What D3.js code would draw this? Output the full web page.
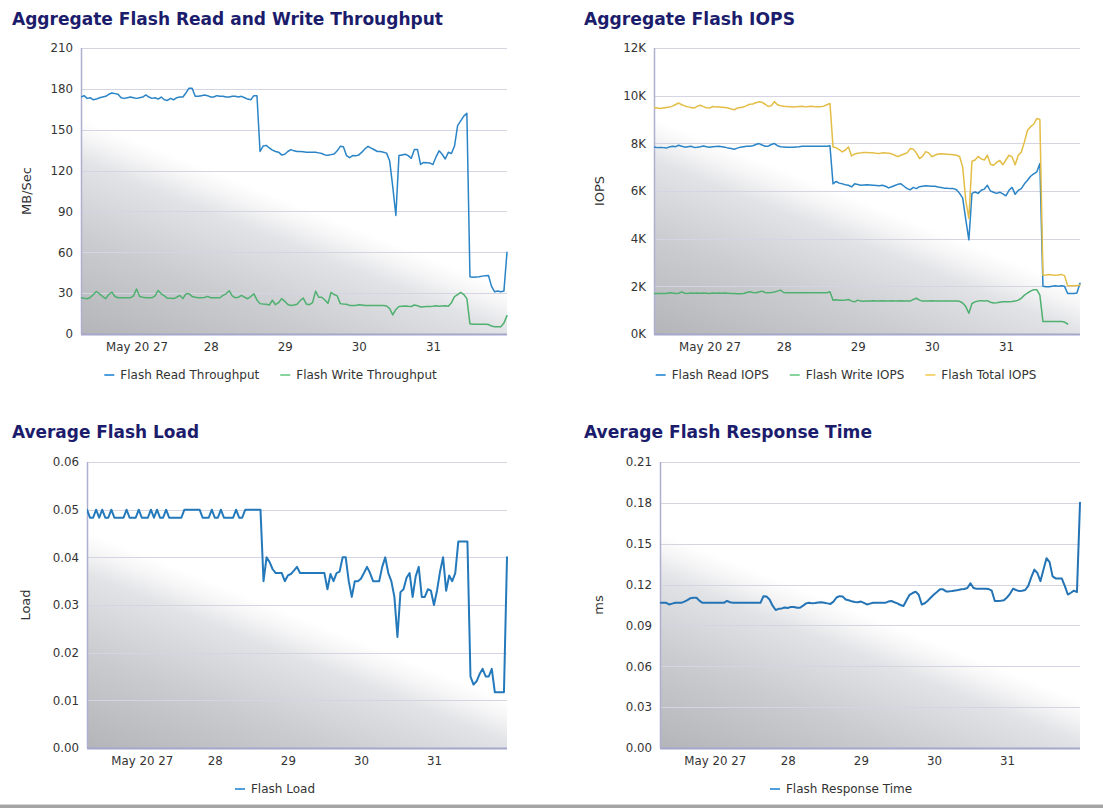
<!DOCTYPE html>
<html><head><meta charset="utf-8">
<script src="https://cdn.jsdelivr.net/npm/d3@7"></script>
<style>
html,body{margin:0;padding:0;background:#fff;}
svg{display:block;font-family:"DejaVu Sans",Verdana,sans-serif;}
</style></head><body>
<svg id="c" width="1103" height="808"></svg>
<script>
// ---------- time axis ----------
const startTime = new Date(Date.UTC(2020, 4, 26, 6));
const endTime = new Date(Date.UTC(2020, 5, 1, 0));
const times = d3.utcHour.range(startTime, d3.utcHour.offset(endTime, 1)); // hourly samples
const dayTicks = [27, 28, 29, 30, 31].map(d => new Date(Date.UTC(2020, 4, d)));
const dayTickLabels = ["May 20 27", "28", "29", "30", "31"];

// ---------- tick labels ----------
const throughputTicks = [0, 30, 60, 90, 120, 150, 180, 210];
const throughputTickLabels = ["0", "30", "60", "90", "120", "150", "180", "210"];
const iopsTicks = [0, 2, 4, 6, 8, 10, 12];
const iopsTickLabels = ["0K", "2K", "4K", "6K", "8K", "10K", "12K"];
const loadTicks = [0, 0.01, 0.02, 0.03, 0.04, 0.05, 0.06];
const loadTickLabels = ["0.00", "0.01", "0.02", "0.03", "0.04", "0.05", "0.06"];
const respTicks = [0, 0.03, 0.06, 0.09, 0.12, 0.15, 0.18, 0.21];
const respTickLabels = ["0.00", "0.03", "0.06", "0.09", "0.12", "0.15", "0.18", "0.21"];

// ---------- series (hourly, MB/Sec) ----------
const flashReadThroughput = [174,175,173,173.5,172,172.5,173.5,174,174.5,176,177,176.5,176,173.5,173,173.5,174,173.5,173,173.5,174,175.5,174,173,173.5,172.5,174,172,171.5,173,172,173.5,174,174,177,180.5,180.5,174.5,174.5,175,175.5,175,174,174,175,174.5,174.5,174,174,174.5,174.5,174,174.5,173.5,172.5,172,175,175,
134,138,138.5,136.6,135,134,133.5,131.5,132,134,135.4,134.5,134,134,133.8,133.5,133.4,133.4,133.4,133,132.5,131.5,131.2,131.7,132.2,134.5,137.8,137.5,131,129.5,131,130.8,131.5,133.5,136,137.8,136.5,135.3,134,134,133.5,132.8,127,108,87,131,131.5,132,131,129,135.4,135.4,124.5,126,125.8,125.6,124.4,130,134.5,132,128.5,133.4,132.5,138,153,156.5,160,162,42,41.6,41.8,42,42.5,42.8,43,35,31,31.5,31,31.5,60];
const flashWriteThroughput = [26.6,26.2,25.9,26.8,29,31.2,29.5,27.5,26,29,30.7,27.5,26.6,26.6,26.6,26.6,26.6,28,33,27.5,27,26.6,26.6,26.6,28,32,29.5,28,26.2,26.2,26,27,28.3,26,29.5,29.5,27.6,27,26.6,26.6,26.8,27.6,26.6,26.6,26.6,26.6,28.3,29.5,31.8,28,26.6,27,28.3,27,25.9,27.5,29.5,25,
22.3,22,21.8,21.3,24.8,21.5,23,26,24,21.6,21,21.3,21.8,24.5,26.4,22,21.5,23,31.5,27,27,25,22.5,30.5,29,28,22.3,22,21.8,21,21,21,21.5,21.3,21,21,21,21,21,21,21,20.6,18.6,14,18,20.2,20.4,20.5,20.3,20.2,21.3,20.8,19.8,20,20.2,20.2,20.4,20.8,20.4,20.6,20.8,20.4,23,27.5,29,30.5,29,26,7.5,7.2,7.2,7.2,7.2,7.2,7,5.8,5.4,5.3,5.3,8,13.5];

// ---------- series (hourly, thousands of IOPS) ----------
const flashReadIOPS = [7.85,7.82,7.83,7.82,7.8,7.85,7.88,7.86,7.92,7.88,7.84,7.86,7.88,7.83,7.84,7.86,7.89,7.86,7.84,7.86,7.87,7.88,7.86,7.84,7.8,7.78,7.75,7.8,7.84,7.86,7.88,7.88,7.9,7.95,7.99,7.93,7.88,7.88,7.95,7.99,7.9,7.86,7.85,7.84,7.84,7.84,7.85,7.86,7.88,7.88,7.88,7.88,7.88,7.88,7.88,7.88,7.88,7.9,
6.3,6.4,6.33,6.3,6.26,6.24,6.17,6.3,6.27,6.24,6.25,6.26,6.25,6.24,6.23,6.22,6.24,6.2,6.13,6.18,6.23,6.28,6.3,6.2,6.1,6.05,6.15,6.1,6.18,6.2,6.22,6.21,6.2,6.2,6.17,6.15,6.12,6.12,6.1,6.1,6.05,5.9,5.7,4.8,3.95,5.9,5.96,5.9,6.03,6.08,6.24,6.0,5.95,5.9,5.95,5.88,5.8,6.03,6.15,5.86,6.03,6.1,6.3,6.45,6.62,6.72,6.8,7.15,2.0,1.98,1.98,2.0,2.02,2.0,2.02,2.0,1.7,1.7,1.7,1.72,2.13];
const flashWriteIOPS = [1.7,1.7,1.7,1.7,1.7,1.73,1.72,1.7,1.71,1.77,1.71,1.7,1.72,1.71,1.72,1.71,1.72,1.71,1.7,1.72,1.71,1.72,1.71,1.72,1.71,1.7,1.7,1.69,1.69,1.7,1.74,1.77,1.74,1.73,1.76,1.8,1.74,1.73,1.74,1.76,1.8,1.84,1.74,1.73,1.73,1.73,1.73,1.73,1.73,1.73,1.73,1.73,1.73,1.73,1.73,1.73,1.73,1.77,
1.42,1.44,1.42,1.42,1.43,1.45,1.38,1.35,1.42,1.38,1.37,1.38,1.38,1.39,1.38,1.38,1.39,1.38,1.38,1.39,1.38,1.38,1.39,1.38,1.38,1.38,1.45,1.5,1.42,1.38,1.38,1.38,1.39,1.38,1.38,1.38,1.38,1.38,1.38,1.38,1.38,1.37,1.3,1.15,0.87,1.28,1.35,1.38,1.4,1.38,1.4,1.33,1.3,1.31,1.33,1.35,1.35,1.35,1.36,1.38,1.42,1.5,1.63,1.72,1.8,1.86,1.86,1.63,0.52,0.52,0.52,0.52,0.52,0.52,0.52,0.5,0.42,null,null,null,null];
const flashTotalIOPS = [9.5,9.48,9.46,9.48,9.5,9.52,9.56,9.63,9.69,9.62,9.57,9.53,9.5,9.48,9.55,9.6,9.54,9.49,9.48,9.55,9.53,9.52,9.51,9.5,9.48,9.44,9.41,9.48,9.5,9.52,9.58,9.64,9.65,9.7,9.74,9.72,9.64,9.55,9.58,9.75,9.62,9.58,9.56,9.55,9.54,9.52,9.53,9.55,9.56,9.53,9.55,9.56,9.54,9.53,9.54,9.56,9.62,9.67,
7.85,7.82,7.74,7.64,7.72,7.85,7.47,7.55,7.58,7.6,7.62,7.62,7.6,7.6,7.58,7.57,7.6,7.59,7.58,7.56,7.5,7.44,7.5,7.55,7.6,7.78,7.75,7.6,7.36,7.45,7.65,7.6,7.44,7.5,7.55,7.56,7.55,7.54,7.53,7.52,7.5,7.45,7.0,5.6,4.85,7.25,7.3,7.45,7.35,7.3,7.5,7.12,7.08,7.2,7.28,7.1,7.3,7.5,7.43,7.1,7.5,7.64,8.06,8.55,8.7,8.8,9.04,9.0,2.47,2.48,2.5,2.48,2.47,2.48,2.5,2.45,2.02,2.02,2.02,2.03,2.05];

// ---------- series (hourly) ----------
const flashLoad = [.05,.0483,.0483,.05,.0483,.05,.0483,.0483,.05,.0483,.0483,.0483,.0483,.05,.0483,.0483,.0483,.05,.0483,.0483,.0483,.05,.0483,.05,.0483,.0483,.05,.0483,.0483,.0483,.0483,.0483,.05,.05,.05,.05,.05,.05,.0483,.0483,.0483,.05,.0483,.0483,.05,.0483,.0483,.0483,.0483,.05,.0483,.0483,.05,.05,.05,.05,.05,.05,
.035,.04,.039,.0375,.0367,.0367,.0367,.035,.0362,.0365,.0372,.038,.0367,.0367,.0367,.0367,.0367,.0367,.0367,.0367,.0367,.0333,.0365,.035,.0367,.037,.04,.04,.035,.0317,.035,.035,.0355,.0367,.038,.0367,.035,.035,.035,.038,.04,.0367,.035,.0317,.0233,.0327,.0333,.0357,.0367,.0317,.036,.038,.0317,.0317,.0333,.033,.03,.033,.037,.04,.033,.0362,.035,.0367,.0433,.0433,.0433,.0433,.015,.0133,.014,.0155,.0166,.015,.015,.0166,.0117,.0117,.0117,.0117,.04];
const flashResponseTime = [0.1066,0.1066,0.1066,0.1054,0.106,0.1066,0.1066,0.1066,0.1075,0.1086,0.11,0.1103,0.1103,0.108,0.1066,0.1066,0.1066,0.1066,0.1066,0.1066,0.1066,0.1066,0.108,0.107,0.1066,0.1066,0.1066,0.1066,0.1066,0.1066,0.1066,0.1066,0.1066,0.1066,0.1115,0.1112,0.109,0.1045,0.1013,0.1022,0.1025,0.1032,0.1028,0.1036,0.1035,0.103,0.103,0.1045,0.1062,0.1066,0.1062,0.1064,0.1068,0.107,0.1066,0.1062,0.1058,0.1075,
0.1105,0.1115,0.1113,0.109,0.1085,0.1077,0.1072,0.107,0.1075,0.1065,0.1054,0.106,0.1066,0.1066,0.1066,0.1066,0.1066,0.1075,0.108,0.107,0.1062,0.105,0.1043,0.1085,0.1125,0.1138,0.1148,0.1125,0.1054,0.1063,0.1082,0.1105,0.1127,0.1145,0.1165,0.1165,0.115,0.115,0.1153,0.1157,0.116,0.1165,0.1168,0.1175,0.121,0.1175,0.117,0.117,0.117,0.117,0.1167,0.1155,0.108,0.108,0.1082,0.1085,0.1105,0.1132,0.117,0.116,0.1152,0.1155,0.116,0.119,0.1255,0.131,0.1285,0.1225,0.131,0.1394,0.1365,0.126,0.1245,0.1245,0.1245,0.119,0.1127,0.114,0.1155,0.1145,0.18];

// ---------- drawing ----------
const svg = d3.select('#c');
const defs = svg.append('defs');
const FONT = '"DejaVu Sans", Verdana, sans-serif';

function drawPanel(p) {
  const g = svg.append('g');
  const x = d3.scaleUtc().domain([startTime, endTime]).range([p.x0, p.x1]);
  const y = d3.scaleLinear().domain([0, p.yTicks[p.yTicks.length - 1]]).range([p.y1, p.y0]);

  // plot background: soft diagonal shading, dark toward bottom-left
  const gid = 'bg-' + p.id;
  const nx = -0.371, ny = 0.928;
  const sx = p.x0, sy = p.y0 + 70;
  const lgr = defs.append('linearGradient').attr('id', gid).attr('gradientUnits', 'userSpaceOnUse')
    .attr('x1', sx).attr('y1', sy).attr('x2', sx + nx * 200).attr('y2', sy + ny * 200);
  [[0, '#ffffff'], [0.08, '#f6f6f7'], [0.2, '#e2e3e6'], [0.55, '#cacccf'], [1, '#b3b5b9']]
    .forEach(([o, c]) => lgr.append('stop').attr('offset', o).attr('stop-color', c));
  g.append('rect').attr('x', p.x0).attr('y', p.y0).attr('width', p.x1 - p.x0).attr('height', p.y1 - p.y0)
    .attr('fill', `url(#${gid})`);

  // grid
  g.append('g').selectAll('line').data(p.yTicks.filter(v => v > 0)).join('line')
    .attr('x1', p.x0).attr('x2', p.x1)
    .attr('y1', d => Math.round(y(d)) + 0.5).attr('y2', d => Math.round(y(d)) + 0.5)
    .attr('stroke', '#d4d4e3').attr('stroke-width', 1.2);

  // y axis
  const ya = d3.axisLeft(y).tickValues(p.yTicks).tickFormat((d, i) => p.yTickLabels[i]).tickSize(0).tickPadding(8);
  const yg = g.append('g').attr('transform', `translate(${p.x0},0)`).call(ya);
  yg.select('.domain').remove();
  yg.selectAll('text').attr('font-size', 11.8).attr('fill', '#333').attr('font-family', FONT);

  // x axis
  const xa = d3.axisBottom(x).tickValues(dayTicks).tickFormat((d, i) => dayTickLabels[i]).tickSize(0).tickPadding(8.5);
  const xg = g.append('g').attr('transform', `translate(0,${p.y1})`).call(xa);
  xg.select('.domain').remove();
  xg.selectAll('text').attr('font-size', 11.8).attr('fill', '#333').attr('font-family', FONT);

  // axis lines
  g.append('line').attr('x1', p.x0 + 0.5).attr('x2', p.x0 + 0.5).attr('y1', p.y0).attr('y2', p.y1)
    .attr('stroke', '#aeaed0').attr('stroke-width', 1.5);
  g.append('line').attr('x1', p.x0).attr('x2', p.x1).attr('y1', p.y1 + 0.5).attr('y2', p.y1 + 0.5)
    .attr('stroke', '#a6a6cc').attr('stroke-width', 2);

  // axis title
  g.append('text').attr('transform', `translate(${p.x0 - p.titleOffset},${(p.y0 + p.y1) / 2}) rotate(-90)`)
    .attr('text-anchor', 'middle').attr('font-size', 13).attr('fill', '#333').attr('font-family', FONT)
    .text(p.yTitle);

  // chart title
  g.append('text').attr('x', p.tx).attr('y', p.ty).attr('font-size', 18).attr('font-weight', 'bold')
    .attr('fill', '#1c1c6c').attr('font-family', FONT)
    .attr('textLength', p.tw).attr('lengthAdjust', 'spacingAndGlyphs').text(p.title);

  // lines
  const cid = 'clip-' + p.id;
  defs.append('clipPath').attr('id', cid).append('rect')
    .attr('x', p.x0).attr('y', p.y0 - 2).attr('width', p.x1 - p.x0 + 2).attr('height', p.y1 - p.y0 + 2);
  const line = d3.line().defined(d => d != null).x((d, i) => x(times[i])).y(d => y(d));
  const lg = g.append('g').attr('clip-path', `url(#${cid})`);
  p.series.forEach(s => {
    lg.append('path').attr('d', line(s.values)).attr('fill', 'none').attr('stroke', s.color)
      .attr('stroke-width', s.width || 1.5).attr('stroke-linejoin', 'round').attr('stroke-linecap', 'round');
  });

  // legend
  const leg = svg.append('g');
  let xpos = 0;
  p.series.forEach(s => {
    const gi = leg.append('g').attr('transform', `translate(${xpos},0)`);
    gi.append('line').attr('x1', 0).attr('x2', 10).attr('y1', 0).attr('y2', 0)
      .attr('stroke', s.swatch).attr('stroke-width', 2);
    const t = gi.append('text').attr('x', 16).attr('y', 4.4).attr('font-size', 12).attr('fill', '#333')
      .attr('font-family', FONT).text(s.name);
    xpos += 16 + t.node().getComputedTextLength() + 21;
  });
  const total = xpos - 21;
  leg.attr('transform', `translate(${p.legendCx - total / 2},${p.y1 + 41})`);
}

drawPanel({
  id: 'tp', x0: 81, x1: 507, y0: 48, y1: 334, yTicks: throughputTicks, yTickLabels: throughputTickLabels,
  yTitle: 'MB/Sec', titleOffset: 50, title: 'Aggregate Flash Read and Write Throughput', tx: 12, ty: 25, tw: 431,
  legendCx: 270.5,
  series: [
    { name: 'Flash Read Throughput', values: flashReadThroughput, color: '#2b84c6', swatch: '#4f9fdc' },
    { name: 'Flash Write Throughput', values: flashWriteThroughput, color: '#4fb070', swatch: '#86d49c' }
  ]
});
drawPanel({
  id: 'iops', x0: 654, x1: 1080, y0: 48, y1: 334, yTicks: iopsTicks, yTickLabels: iopsTickLabels,
  yTitle: 'IOPS', titleOffset: 50, title: 'Aggregate Flash IOPS', tx: 584, ty: 25, tw: 211,
  legendCx: 846,
  series: [
    { name: 'Flash Read IOPS', values: flashReadIOPS, color: '#2b84c6', swatch: '#4f9fdc' },
    { name: 'Flash Write IOPS', values: flashWriteIOPS, color: '#4fb070', swatch: '#86d49c' },
    { name: 'Flash Total IOPS', values: flashTotalIOPS, color: '#e3bd45', swatch: '#f5d679' }
  ]
});
drawPanel({
  id: 'load', x0: 87, x1: 507, y0: 462, y1: 748, yTicks: loadTicks, yTickLabels: loadTickLabels,
  yTitle: 'Load', titleOffset: 57, title: 'Average Flash Load', tx: 12, ty: 438, tw: 187,
  legendCx: 275,
  series: [
    { name: 'Flash Load', values: flashLoad, color: '#2479bb', swatch: '#4f9fdc', width: 2 }
  ]
});
drawPanel({
  id: 'resp', x0: 660, x1: 1080, y0: 462, y1: 748, yTicks: respTicks, yTickLabels: respTickLabels,
  yTitle: 'ms', titleOffset: 57, title: 'Average Flash Response Time', tx: 584, ty: 438, tw: 288,
  legendCx: 841,
  series: [
    { name: 'Flash Response Time', values: flashResponseTime, color: '#2474b5', swatch: '#4f9fdc', width: 2 }
  ]
});

// bottom separator
svg.append('rect').attr('x', 0).attr('y', 804).attr('width', 1103).attr('height', 1).attr('fill', '#d6d6d6');
svg.append('rect').attr('x', 0).attr('y', 805).attr('width', 1103).attr('height', 3).attr('fill', '#a4a4a4');
</script>
</body></html>
